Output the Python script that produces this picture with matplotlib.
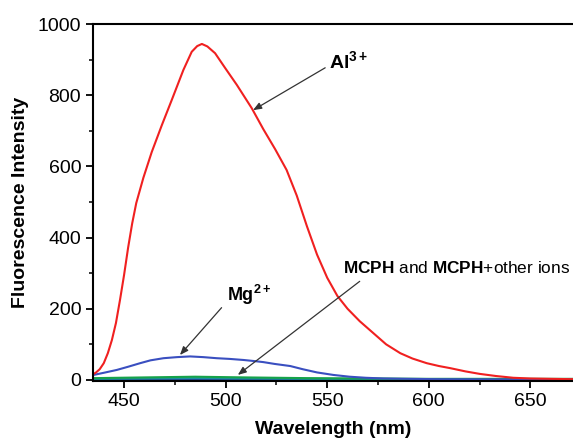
import matplotlib.pyplot as plt

plt.rcParams["font.family"] = ["Liberation Sans", "DejaVu Sans"]
plt.rcParams["mathtext.fontset"] = "custom"
plt.rcParams["mathtext.rm"] = "Liberation Sans"
plt.rcParams["mathtext.bf"] = "Liberation Sans:bold"

# Al3+ spectrum (red)
al_wl = [435, 436, 438, 440, 442, 444, 446, 448, 450, 452, 454, 456, 459.5, 463.6, 468.6, 473.5,
         479.2, 483.3, 486, 488.3, 491, 494.8, 499.8, 505.5, 512.9, 518.6, 524.4, 530, 535,
         540, 545, 550, 555, 560, 566, 572.8, 579, 586, 592, 599, 605, 610.6, 618,
         625, 633, 641.6, 650, 660, 671]
al_int = [17, 20, 30, 47, 75, 112, 160, 225, 295, 372, 440, 497, 568, 640, 716, 787,
          871, 922, 938, 944, 937, 918, 876, 829, 763, 704, 648, 590, 518,
          432, 352, 287, 236, 200, 165, 131, 100, 75, 60, 47, 39, 33, 24,
          17, 11, 6, 4, 3, 2]

# Mg2+ spectrum (blue)
mg_wl = [435, 440, 446.4, 452, 457.9, 463, 469.4, 476, 482.5, 489, 495.6, 502, 508.8, 514, 518.6,
         524, 531.8, 538, 545, 553, 561, 569, 577.6, 590, 605, 630, 671]
mg_int = [14, 20, 28, 37, 47, 55, 61, 64, 66, 64, 61, 59, 56, 53, 50, 45, 39, 30, 21, 14, 9, 6,
          4, 3, 2, 1.5, 1]

# MCPH and MCPH + other ions (near zero)
low_wl = [435, 460, 485, 510, 540, 570, 600, 630, 671]
green_int = [5, 7, 9, 7, 5, 4, 3, 3, 3]
teal_int = [3, 4, 5, 4, 3, 3, 2, 2, 2]
navy_int = [1, 1.5, 2, 2, 1.5, 1, 1, 1, 1]

fig = plt.figure(figsize=(5.73, 4.48), dpi=100)
ax = fig.add_axes([0.1623, 0.1496, 0.8377, 0.7968])

ax.plot(low_wl, navy_int, color="#1f3c8f", lw=1.5)
ax.plot(low_wl, teal_int, color="#1a8fa0", lw=1.5)
ax.plot(low_wl, green_int, color="#16a34a", lw=1.5)
ax.plot(mg_wl, mg_int, color="#3a4fc0", lw=1.5)
ax.plot(al_wl, al_int, color="#f02020", lw=1.5)

ax.set_xlim(434.7, 671)
ax.set_ylim(-3, 1000)
ax.set_xticks([450, 500, 550, 600, 650])
ax.set_xticks(range(450, 675, 25), minor=True)
ax.set_yticks(range(0, 1001, 200))
ax.set_yticks(range(0, 1001, 100), minor=True)
ax.tick_params(which="major", direction="out", length=5, width=1.3, labelsize=14)
ax.tick_params(which="minor", direction="out", length=3, width=1.1)
ax.spines["right"].set_visible(False)
for s in ["left", "bottom", "top"]:
    ax.spines[s].set_linewidth(1.5)

ax.set_xlabel("Wavelength (nm)", fontsize=14, fontweight="bold", labelpad=8)
ax.set_ylabel("Fluorescence Intensity", fontsize=14, fontweight="bold", labelpad=6)

arrow = dict(arrowstyle="-|>,head_length=0.5,head_width=0.2", color="#333333", lw=0.9, shrinkA=0, shrinkB=0)
ax.annotate("", xy=(513.5, 758), xytext=(549, 877), arrowprops=arrow)
ax.text(551, 897, r"$\mathbf{Al^{3+}}$", fontsize=14, ha="left", va="center")
ax.annotate("", xy=(477.5, 70), xytext=(498, 203), arrowprops=arrow)
ax.text(500.5, 240, r"$\mathbf{Mg^{2+}}$", fontsize=13, ha="left", va="center")
ax.annotate("", xy=(506, 14), xytext=(566, 277), arrowprops=arrow)
ax.text(558, 315, r"$\mathbf{MCPH}$ and $\mathbf{MCPH}$+other ions", fontsize=12.4, ha="left", va="center")

fig.savefig("out.png", dpi=100)
